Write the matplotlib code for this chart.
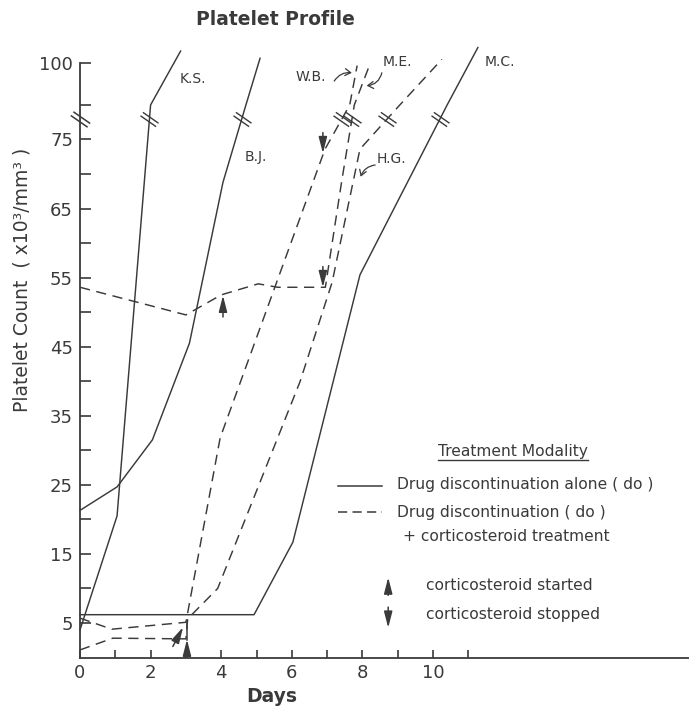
import numpy as np
import matplotlib
matplotlib.use("Agg")
import matplotlib.pyplot as plt
from matplotlib.path import Path

ink = "#3a3a3a"

# patients drawn with a solid line (drug discontinuation alone)
ks_days = [0, 1.05, 2.0, 2.85]
ks_vals = [4.0, 20.5, 80, 106]
bj_days = [0, 1.05, 2.05, 3.1, 4.05, 4.7, 5.1]
bj_vals = [21.3, 24.7, 31.5, 45.5, 68.8, 80, 102.5]
mc_days = [0, 4.93, 6.03, 7.93, 10.4, 11.27]
mc_vals = [6.2, 6.2, 16.7, 55.4, 80, 107.7]

# patients drawn with a dashed line (+ corticosteroid)
wb_days = [0, 0.9, 3.0, 3.97, 6.94, 7.64, 7.85]
wb_vals = [5.7, 4.1, 5.1, 31.8, 73.6, 80, 99]
me_days = [0, 3.0, 4.0, 5.05, 5.6, 6.95, 7.42, 7.77, 8.19]
me_vals = [53.6, 49.6, 52.5, 54.1, 53.6, 53.6, 69.2, 80, 98.7]
hg_days = [0, 0.93, 3.0, 3.05, 3.9, 6.23, 7.14, 7.93, 9.06, 10.25]
hg_vals = [1.1, 2.8, 2.7, 5.6, 10, 39.9, 54.3, 73.6, 80, 102]

# corticosteroid started / stopped arrows: (day, from, to)
started = [(4.05, 49.3, 52.4), (3.03, 0.4, 2.6)]
stopped = [(6.88, 56.6, 53.6), (6.88, 76.0, 73.0)]

y_major = [5, 15, 25, 35, 45, 55, 65, 75, 100]
y_minor = [10, 20, 30, 40, 50, 60, 70, 80]
x_major = [0, 2, 4, 6, 8, 10]
x_minor = list(range(0, 12))

BREAK = 78


def fwd(v):
    v = np.asarray(v, dtype=float)
    return np.where(v <= 80, v, 80 + (v - 80) * 0.3)


def inv(u):
    u = np.asarray(u, dtype=float)
    return np.where(u <= 80, u, 80 + (u - 80) / 0.3)


def crossing(days, vals, level):
    for i in range(len(vals) - 1):
        if vals[i] < level <= vals[i + 1]:
            t = (level - vals[i]) / (vals[i + 1] - vals[i])
            return days[i] + t * (days[i + 1] - days[i])
    return None


# two short parallel strokes used as the "//" scale break
d = np.array([0.82, -0.57])
n = np.array([0.57, 0.82])
a1, b1 = -d + 0.22 * n, d + 0.22 * n
a2, b2 = -d - 0.22 * n, d - 0.22 * n
break_mark = Path([a1, b1, a2, b2],
                  [Path.MOVETO, Path.LINETO, Path.MOVETO, Path.LINETO])

plt.rcParams["font.family"] = ["DejaVu Sans"]
fig = plt.figure(figsize=(6.89, 7.08), dpi=100)
ax = fig.add_axes([0.1161, 0.0713, 0.8839, 0.8771])
ax.set_yscale("function", functions=(fwd, inv))
ax.set_xlim(0, 17.25)
ax.set_ylim(0, 113)

dash = (0, (7, 4.5))
lines = [
    (ks_days, ks_vals, "-"),
    (bj_days, bj_vals, "-"),
    (mc_days, mc_vals, "-"),
    (wb_days, wb_vals, dash),
    (me_days, me_vals, dash),
    (hg_days, hg_vals, dash),
]
for xs, ys, ls in lines:
    ax.plot(xs, ys, color=ink, lw=1.05, linestyle=ls, clip_on=False)
    xb = crossing(xs, ys, BREAK)
    if xb is not None:
        ax.plot([xb], [BREAK], marker=break_mark, markersize=13,
                mfc="none", mec=ink, mew=1.0, linestyle="none", clip_on=False)

# axis break
ax.plot([0], [BREAK], marker=break_mark, markersize=14, mfc="none",
        mec=ink, mew=1.1, linestyle="none", clip_on=False)

arrow_kw = dict(arrowstyle="-|>,head_width=0.18,head_length=0.7",
                color=ink, lw=1.1, shrinkA=0, shrinkB=0, mutation_scale=14)
for x, y0, y1 in started + stopped:
    ax.annotate("", xy=(x, y1), xytext=(x, y0), arrowprops=arrow_kw)
# small vertical stroke above the day-3 arrow and the slanted arrow
ax.plot([3.03, 3.03], [2.6, 5.4], color=ink, lw=1.1)
ax.annotate("", xy=(2.92, 4.4), xytext=(2.63, 1.6), arrowprops=arrow_kw)

# patient labels
lab_kw = dict(fontsize=10, color=ink, ha="center", va="center")
ax.text(3.2, 92.3, "K.S.", **lab_kw)
ax.text(4.98, 72.5, "B.J.", **lab_kw)
ax.text(6.53, 93.3, "W.B.", **lab_kw)
ax.text(9.0, 100.8, "M.E.", **lab_kw)
ax.text(8.82, 72.1, "H.G.", **lab_kw)
ax.text(11.9, 100.8, "M.C.", **lab_kw)
thin = dict(arrowstyle="->,head_width=0.25,head_length=0.4", color=ink,
            lw=0.9, shrinkA=0, shrinkB=0)
ax.annotate("", xy=(7.7, 95.5), xytext=(7.2, 91.5),
            arrowprops=dict(connectionstyle="arc3,rad=-0.3", **thin))
ax.annotate("", xy=(8.12, 89.3), xytext=(8.55, 95.5),
            arrowprops=dict(connectionstyle="arc3,rad=-0.35", **thin))
ax.annotate("", xy=(7.95, 69.6), xytext=(8.36, 71.3),
            arrowprops=dict(connectionstyle="arc3,rad=0.3", **thin))

# treatment legend
leg_kw = dict(fontsize=11.2, color=ink, va="center", ha="left")
t = ax.text(10.14, 29.8, "Treatment Modality", **leg_kw)
ax.plot([7.31, 8.56], [24.9, 24.9], color=ink, lw=1.1)
ax.plot([7.31, 8.56], [21.1, 21.1], color=ink, lw=1.1, linestyle=(0, (6, 3.5)))
ax.text(8.98, 25.1, "Drug discontinuation alone ( do )", **leg_kw)
ax.text(8.98, 21.0, "Drug discontinuation ( do )", **leg_kw)
ax.text(9.15, 17.5, "+ corticosteroid treatment", **leg_kw)
ax.annotate("", xy=(8.73, 11.6), xytext=(8.73, 9.0), arrowprops=arrow_kw)
ax.annotate("", xy=(8.73, 4.3), xytext=(8.73, 7.3), arrowprops=arrow_kw)
ax.text(9.8, 10.4, "corticosteroid started", **leg_kw)
ax.text(9.8, 6.3, "corticosteroid stopped", **leg_kw)

fig.canvas.draw()
bb = t.get_window_extent(fig.canvas.get_renderer())
p0 = ax.transData.inverted().transform((bb.x0, bb.y0 - 1))
p1 = ax.transData.inverted().transform((bb.x1, bb.y0 - 1))
ax.plot([p0[0], p1[0]], [p0[1], p1[1]], color=ink, lw=1.0)

# axes styling
for s in ("top", "right"):
    ax.spines[s].set_visible(False)
ax.spines["left"].set_bounds(0, 100)
for s in ("left", "bottom"):
    ax.spines[s].set_color(ink)
    ax.spines[s].set_linewidth(1.3)
ax.set_yticks(y_major)
ax.set_yticks(y_minor, minor=True)
ax.set_yticklabels([str(v) for v in y_major])
ax.set_xticks(x_major)
ax.set_xticks(x_minor, minor=True)
ax.set_xticklabels([str(v) for v in x_major])
ax.tick_params(axis="y", which="both", direction="in", length=8, width=1.2,
               color=ink, labelsize=13, labelcolor=ink, pad=5)
ax.tick_params(axis="x", which="both", direction="in", length=6, width=1.2,
               color=ink, labelsize=13, labelcolor=ink, pad=5)

fig.text(0.40, 0.972, "Platelet Profile", fontsize=13.5, fontweight="bold",
         color=ink, ha="center", va="center")
fig.text(0.395, 0.016, "Days", fontsize=13.5, fontweight="bold", color=ink,
         ha="center", va="center")
fig.text(0.032, 0.605, "Platelet Count  ( x10³/mm³ )", fontsize=13.5,
         color=ink, rotation=90, ha="center", va="center")

fig.savefig("out.png", dpi=100)
